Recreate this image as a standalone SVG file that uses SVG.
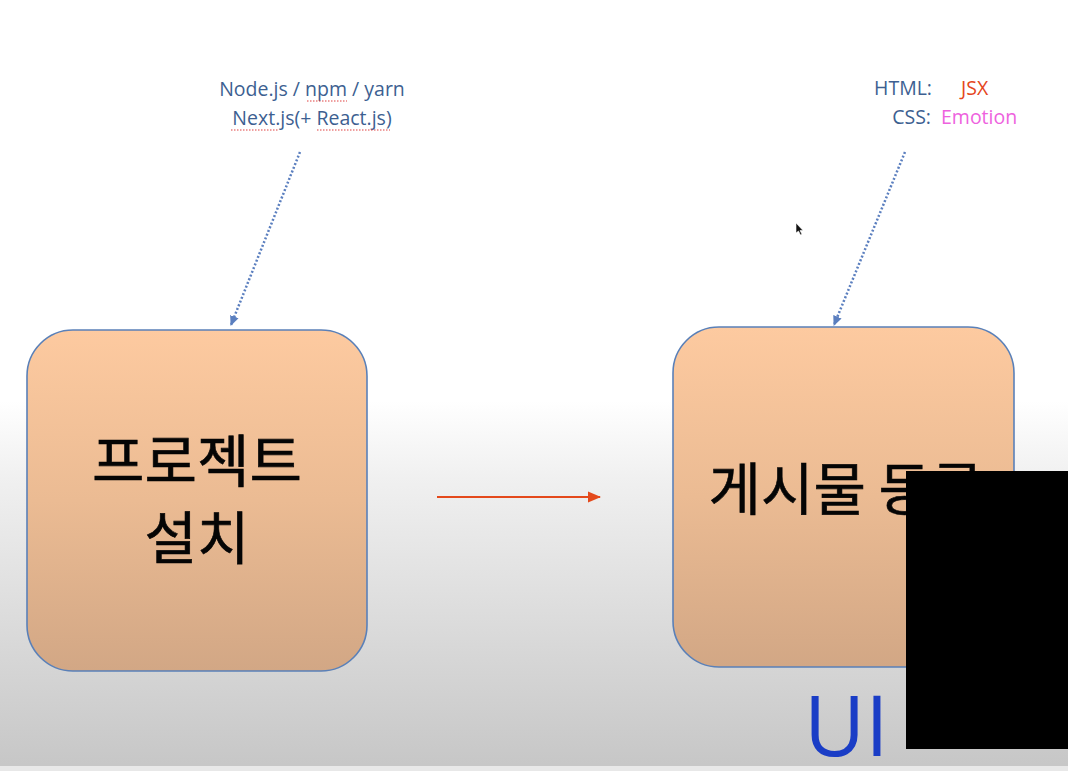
<svg xmlns="http://www.w3.org/2000/svg" width="1068" height="771" viewBox="0 0 1068 771">
<defs>
<linearGradient id="bg" x1="0" y1="0" x2="0" y2="1">
<stop offset="0" stop-color="#ffffff"/>
<stop offset="0.52" stop-color="#ffffff"/>
<stop offset="0.62" stop-color="#f0f0f0"/>
<stop offset="1" stop-color="#c6c6c6"/>
</linearGradient>
<linearGradient id="box" x1="0" y1="0" x2="0" y2="1">
<stop offset="0" stop-color="#fdcaa0"/>
<stop offset="0.5" stop-color="#ebbb93"/>
<stop offset="1" stop-color="#d2a785"/>
</linearGradient>
<marker id="blueHead" markerWidth="12" markerHeight="12" refX="9" refY="6" orient="auto" markerUnits="userSpaceOnUse">
<path d="M0,1.5 L10,6 L0,10.5 Z" fill="#5b7fbf"/>
</marker>
<marker id="redHead" markerWidth="14" markerHeight="14" refX="12" refY="7" orient="auto" markerUnits="userSpaceOnUse">
<path d="M0,1.5 L13,7 L0,12.5 Z" fill="#e4491b"/>
</marker>
<style>
.node rect{fill:url(#box);stroke:#5a80b8;stroke-width:1.6}
.kor{font-family:"Noto Sans CJK KR","Noto Sans CJK SC",sans-serif;font-size:57px;font-weight:400;fill:#050505;text-anchor:middle;stroke:#050505;stroke-width:0.6}
.lbl{font-family:"Open Sans","Liberation Sans",sans-serif;font-size:19.5px;fill:#3d5f91}
.dot{stroke:#5b7fbf;stroke-width:2.5;stroke-dasharray:2 2;fill:none}
.spell{stroke:#e04040;stroke-width:1.2;stroke-dasharray:1.5 1.5}
</style>
</defs>
<rect x="0" y="0" width="1068" height="771" fill="url(#bg)"/>
<rect x="0" y="766" width="1068" height="5" fill="#e8e8e8"/>

<g id="label-setup">
<text class="lbl" x="312" y="96" text-anchor="middle">Node.js / npm / yarn</text>
<text class="lbl" x="312" y="125" text-anchor="middle">Next.js(+ React.js)</text>
<line class="spell" x1="307" y1="101" x2="347" y2="101"/>
<line class="spell" x1="231" y1="130" x2="278" y2="130"/>
<line class="spell" x1="317" y1="130" x2="390" y2="130"/>
</g>

<g id="label-ui">
<text class="lbl" x="932" y="95" text-anchor="end">HTML:</text>
<text x="961" y="95" font-family="Open Sans, Liberation Sans, sans-serif" font-size="19.5" fill="#e5461c">JSX</text>
<text class="lbl" x="931" y="124" text-anchor="end">CSS:</text>
<text x="941" y="124" font-family="Open Sans, Liberation Sans, sans-serif" font-size="19.5" fill="#ee62de">Emotion</text>
</g>

<g id="connectors">
<line class="dot" x1="300" y1="152" x2="231" y2="325" marker-end="url(#blueHead)"/>
<line class="dot" x1="905" y1="152" x2="834" y2="325" marker-end="url(#blueHead)"/>
<line x1="437" y1="497" x2="600" y2="497" stroke="#e4491b" stroke-width="2" marker-end="url(#redHead)"/>
</g>

<g id="node-setup" class="node">
<rect x="27" y="330" width="340" height="341" rx="46" ry="46"/>
<text class="kor" x="197" y="482">프로젝트</text>
<text class="kor" x="197" y="559">설치</text>
</g>

<g id="node-post" class="node">
<rect x="673" y="327" width="341" height="340" rx="46" ry="46"/>
<text class="kor" x="846" y="510">게시물 등록</text>
</g>

<g id="ui-label">
<text x="804" y="756" font-family="Open Sans, Liberation Sans, sans-serif" font-size="84" fill="#1a3dc6">UI</text>
</g>

<rect x="906" y="471" width="162" height="278" fill="#000"/>
<path d="M796,223 L796,233 L798.5,231 L800.5,235 L802,234.3 L800,230.5 L803,230.5 Z" fill="#111" stroke="#fff" stroke-width="0.6"/>
</svg>
